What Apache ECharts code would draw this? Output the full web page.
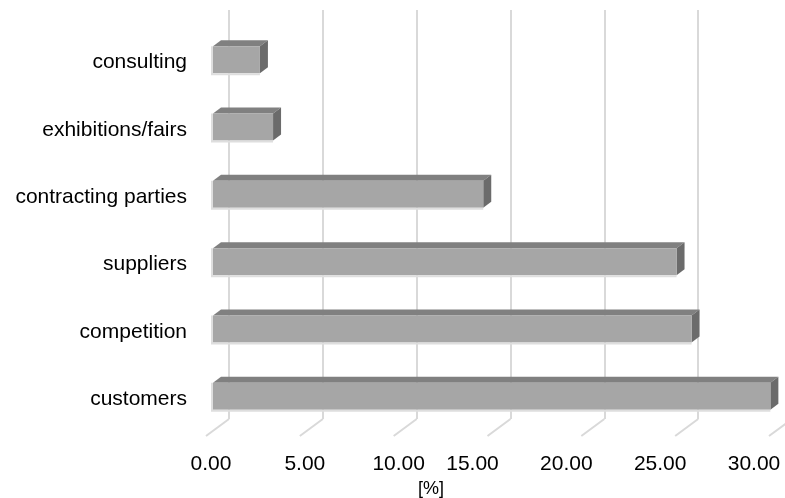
<!DOCTYPE html>
<html lang="en">
<head>
    <meta charset="UTF-8">
    <title>Information sources</title>
    <script type="text/javascript" src="https://cdn.jsdelivr.net/npm/echarts@6/dist/echarts.min.js"></script>
    <style>
        html, body { margin: 0; padding: 0; background: #fff; }
        #chart { width: 785px; height: 498px; }
    </style>
</head>
<body>
<div id="chart"></div>
<script type="text/javascript">
    // categories from bottom to top (category axis starts at the bottom)
    var categories = ['customers', 'competition', 'suppliers', 'contracting parties', 'exhibitions/fairs', 'consulting'];
    var values = [29.7, 25.5, 24.7, 14.4, 3.2, 2.5];
    var ticks = [0, 5, 10, 15, 20, 25, 30];

    var chart = echarts.init(document.getElementById('chart'));

    var barData = [];
    for (var i = 0; i < values.length; i++) {
        barData.push([values[i], i]);
    }
    var floorData = [];
    for (var j = 0; j < ticks.length; j++) {
        floorData.push([ticks[j], 0]);
    }

    // 3d look: front face, top face, side face
    function renderBar(params, api) {
        var val = api.value(0);
        var cat = api.value(1);
        var start = api.coord([0, cat]);
        var end = api.coord([val, cat]);
        var h = api.size([0, 1])[1] * 0.4;
        var x0 = start[0], x1 = end[0];
        var y0 = end[1] - h / 2, y1 = end[1] + h / 2;
        var dx = 8, dy = 6;
        return {
            type: 'group',
            children: [
                {type: 'polygon', shape: {points: [[x0, y0], [x1, y0], [x1 + dx, y0 - dy], [x0 + dx, y0 - dy]]},
                    style: {fill: '#808080'}},
                {type: 'polygon', shape: {points: [[x1, y0], [x1 + dx, y0 - dy], [x1 + dx, y1 - dy], [x1, y1]]},
                    style: {fill: '#6b6b6b'}},
                {type: 'rect', shape: {x: x0, y: y0, width: x1 - x0, height: h},
                    style: {fill: '#a6a6a6'}},
                {type: 'polyline', shape: {points: [[x0 - 1, y0], [x0 - 1, y1 + 1], [x1, y1 + 1]]},
                    style: {stroke: '#dedede', lineWidth: 2, fill: null}}
            ]
        };
    }

    // floor lines from front edge back to the wall
    function renderFloor(params, api) {
        var p = api.coord([api.value(0), 0]);
        var bottom = params.coordSys.y + params.coordSys.height;
        return {
            type: 'line',
            shape: {x1: p[0], y1: bottom, x2: p[0] + 23, y2: bottom - 17},
            style: {stroke: '#d9d9d9', lineWidth: 2}
        };
    }

    var hiddenValue = {
        type: 'value', min: 0, max: 30, interval: 5,
        axisLine: {show: false}, axisTick: {show: false}, axisLabel: {show: false},
        splitLine: {show: false}
    };
    var hiddenCat = {
        type: 'category', data: categories,
        axisLine: {show: false}, axisTick: {show: false}, axisLabel: {show: false},
        splitLine: {show: false}
    };

    var option = {
        backgroundColor: '#ffffff',
        animation: false,
        textStyle: {fontFamily: 'Liberation Sans, Arial, sans-serif'},
        grid: [
            {left: 229, top: 10, width: 563, height: 409, outerBoundsMode: 'none', containLabel: false},   // back wall
            {left: 213, top: 26, width: 563, height: 404, outerBoundsMode: 'none', containLabel: false},   // bar plane
            {left: 206, top: 32, width: 563, height: 404, outerBoundsMode: 'none', containLabel: false},   // front edge
            {left: 213, top: 29, width: 563, height: 404, outerBoundsMode: 'none', containLabel: false}    // category labels
        ],
        xAxis: [
            echarts.util.merge({gridIndex: 0, splitLine: {show: true, lineStyle: {color: '#d9d9d9', width: 2}}}, hiddenValue),
            echarts.util.merge({gridIndex: 1}, hiddenValue),
            {
                type: 'value', gridIndex: 2, min: 0, max: 30, interval: 5,
                axisLine: {show: false}, axisTick: {show: false},
                splitLine: {show: false},
                axisLabel: {
                    margin: 18,
                    formatter: function (v) {
                        return v >= 15 ? '{r|' + v.toFixed(2) + '}' : '{l|' + v.toFixed(2) + '}';
                    },
                    rich: {
                        l: {fontSize: 21, color: '#000', padding: [0, 0, 0, 10]},
                        r: {fontSize: 21, color: '#000', padding: [0, 30, 0, 0]}
                    }
                },
                name: '[%]', nameLocation: 'middle', nameGap: 33,
                nameTextStyle: {fontSize: 18, color: '#000', padding: [0, 113, 0, 0]}
            },
            echarts.util.merge({gridIndex: 3}, hiddenValue)
        ],
        yAxis: [
            echarts.util.merge({gridIndex: 0}, hiddenCat),
            echarts.util.merge({gridIndex: 1}, hiddenCat),
            echarts.util.merge({gridIndex: 2}, hiddenCat),
            {
                type: 'category', gridIndex: 3, data: categories,
                axisLine: {show: false}, axisTick: {show: false},
                axisLabel: {fontSize: 21, color: '#000', margin: 26},
                splitLine: {show: false}
            }
        ],
        series: [
            {
                type: 'custom', xAxisIndex: 2, yAxisIndex: 2,
                renderItem: renderFloor, data: floorData, z: 1, silent: true
            },
            {
                type: 'custom', xAxisIndex: 1, yAxisIndex: 1,
                renderItem: renderBar, data: barData, encode: {x: 0, y: 1}, z: 5
            }
        ]
    };
    chart.setOption(option);
</script>
</body>
</html>
